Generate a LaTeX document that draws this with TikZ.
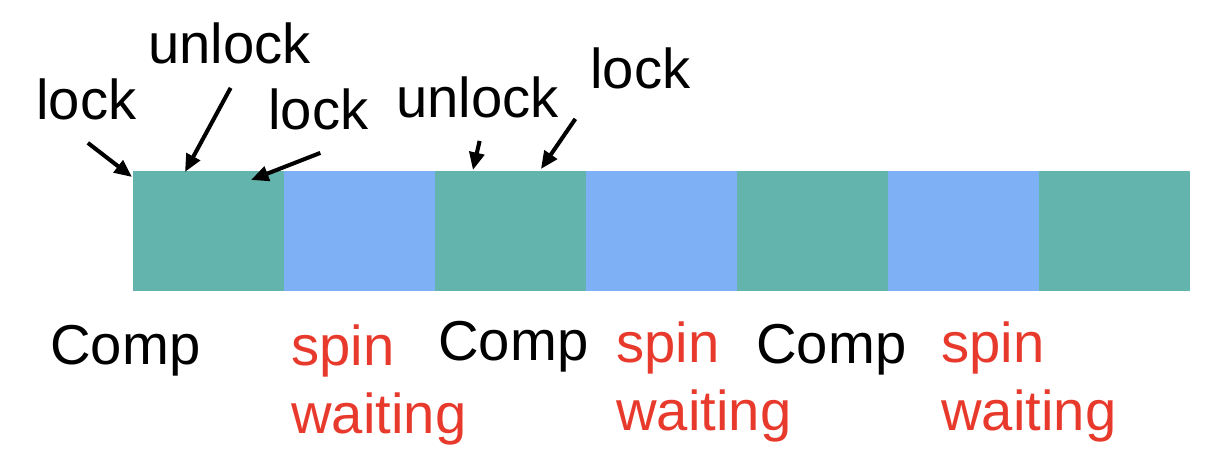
\documentclass[tikz,border=0pt]{standalone}
\usepackage{fontspec}
\setmainfont{Liberation Sans}
\usetikzlibrary{calc,arrows.meta,positioning}

\definecolor{compgreen}{HTML}{63B4AC}
\definecolor{spinblue}{HTML}{7EB0F5}
\definecolor{spinred}{HTML}{E83A2C}

\tikzset{
  slot/.style={minimum width=3.02cm, minimum height=2.4cm, inner sep=0pt, outer sep=0pt},
  lbl/.style={anchor=base west, inner sep=0pt, font=\fontsize{32}{38.6}\selectfont},
  ptr/.style={line width=2.3pt, -{Triangle[length=10pt,width=8.5pt]}}
}

\begin{document}
\begin{tikzpicture}[x=0.02cm, y=-0.02cm]
	\useasboundingbox (0,0) rectangle (1226,462);

	%% the time line: Comp / spin slots one after another
	\node[slot, fill=compgreen, anchor=north west] (b1) at (133,171) {};
	\foreach \i/\c [remember=\i as \j (initially 1)] in {2/spinblue,3/compgreen,4/spinblue,5/compgreen,6/spinblue,7/compgreen}
	{
	  \node[slot, fill=\c, right=0pt of b\j] (b\i) {};
	}

	%% lock / unlock labels above
	\node[lbl] (lockA) at (36,120) {lock};
	\node[lbl] (unlockA) at (148,64) {unlock};
	\node[lbl] (lockB) at (268,130) {lock};
	\node[lbl] (unlockB) at (396,118) {unlock};
	\node[lbl] (lockC) at (590,89) {lock};

	%% arrow ends
	\coordinate (s1) at ($(lockA.south)+(1.5,22)$);
	\coordinate (t1) at ($(b1.north west)+(-1,6)$);
	\coordinate (s2) at ($(unlockA.south)+(1,23)$);
	\coordinate (t2) at ($(b1.north west)+(52,1)$);
	\coordinate (s3) at ($(lockB.south)+(2,22)$);
	\coordinate (t3) at ($(b1.north west)+(118,9)$);
	\coordinate (s4) at ($(unlockB.south)+(2,22)$);
	\coordinate (t4) at ($(b3.north west)+(38,-1)$);
	\coordinate (s5) at ($(lockC.south)+(-65,29)$);
	\coordinate (t5) at ($(b3.north west)+(106,-2)$);

	\foreach \k in {1,...,5}
	  \draw[ptr] (s\k) -- (t\k);

	%% Comp / spin waiting labels below (base = last line)
	\node[lbl] (comp1) at (50,364) {Comp};
	\node[lbl, text=spinred, align=left] (spin1) at (291,433) {spin\\waiting};
	\node[lbl] (comp2) at (438,360) {Comp};
	\node[lbl, text=spinred, align=left] (spin2) at (616,430) {spin\\waiting};
	\node[lbl] (comp3) at (756,363) {Comp};
	\node[lbl, text=spinred, align=left] (spin3) at (941,430) {spin\\waiting};
\end{tikzpicture}
\end{document}
